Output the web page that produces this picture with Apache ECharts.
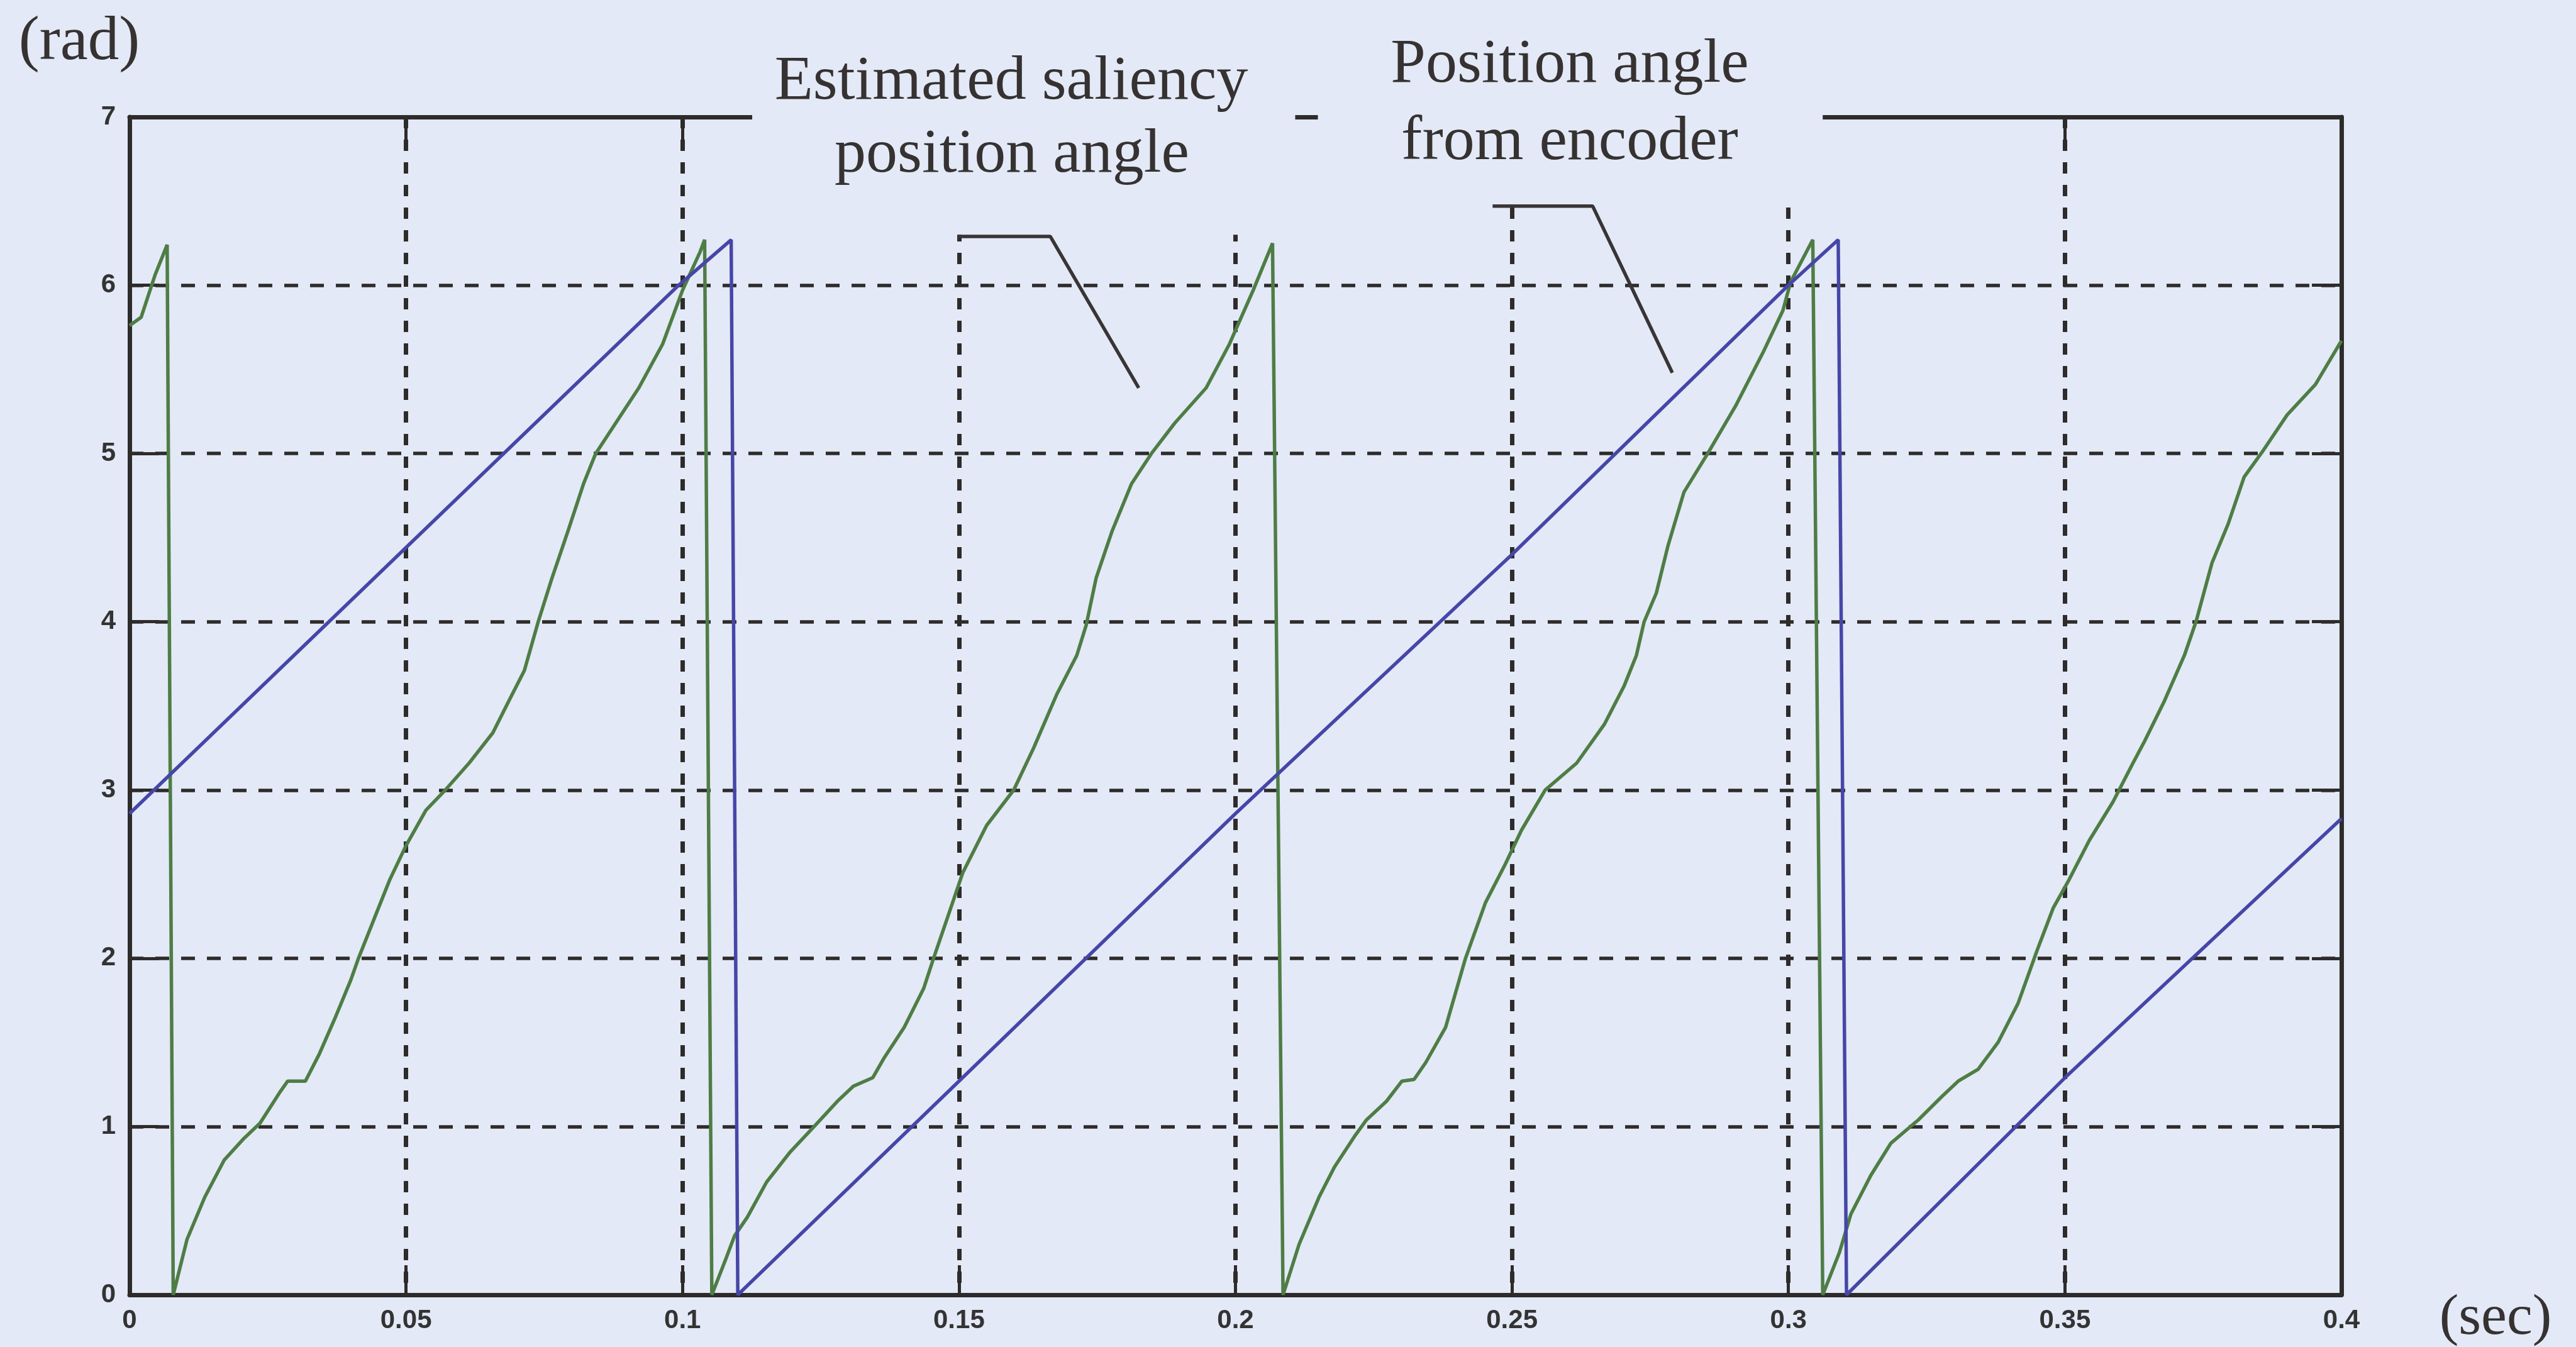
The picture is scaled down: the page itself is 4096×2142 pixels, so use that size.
<!DOCTYPE html>
<html>
<head>
<meta charset="utf-8">
<title>Estimated saliency position angle</title>
<script src="https://cdn.jsdelivr.net/npm/echarts@6/dist/echarts.min.js"></script>
<style>
  html, body { margin: 0; padding: 0; background: #e3e9f6; }
  #chart { width: 4096px; height: 2142px; }
</style>
</head>
<body>
<div id="chart"></div>
<script>
var xTickLabels = ["0", "0.05", "0.1", "0.15", "0.2", "0.25", "0.3", "0.35", "0.4"];
var yTickLabels = ["0", "1", "2", "3", "4", "5", "6", "7"];

// estimated saliency position angle, [sec, rad]
var estimatedAngle = [
  [0, 5.76], [0.0021, 5.81], [0.0046, 6.06], [0.0068, 6.24], [0.0079, 0],
  [0.0104, 0.33], [0.0136, 0.58], [0.0171, 0.8], [0.0207, 0.93], [0.0236, 1.02], [0.0271, 1.2],
  [0.0286, 1.27], [0.0318, 1.27], [0.0343, 1.43], [0.0371, 1.64], [0.04, 1.87], [0.0414, 2.0],
  [0.0443, 2.24], [0.0471, 2.47], [0.05, 2.67], [0.0536, 2.88], [0.0571, 3.0], [0.0614, 3.16],
  [0.0657, 3.34], [0.0686, 3.53], [0.0714, 3.71], [0.0739, 4.0], [0.0764, 4.26], [0.0793, 4.54],
  [0.0821, 4.82], [0.0843, 5.0], [0.0879, 5.18], [0.0921, 5.39], [0.0964, 5.65], [0.1, 5.97],
  [0.1032, 6.2], [0.1040, 6.27], [0.1053, 0],
  [0.1078, 0.21], [0.1094, 0.35], [0.1117, 0.46], [0.1152, 0.67], [0.1195, 0.85], [0.1238, 1.0],
  [0.128, 1.15], [0.1309, 1.24], [0.1344, 1.29], [0.1365, 1.41], [0.1401, 1.59], [0.1436, 1.82],
  [0.1454, 2.0], [0.1479, 2.24], [0.1507, 2.51], [0.155, 2.79], [0.1599, 3.0], [0.1635, 3.25],
  [0.1677, 3.57], [0.1713, 3.8], [0.173, 3.98], [0.1748, 4.26], [0.1777, 4.54], [0.1812, 4.82],
  [0.1848, 5.0], [0.189, 5.18], [0.1947, 5.39], [0.1989, 5.65], [0.2032, 5.97], [0.2067, 6.25],
  [0.2086, 0],
  [0.2115, 0.3], [0.2151, 0.58], [0.2179, 0.76], [0.2215, 0.94], [0.2237, 1.04], [0.2273, 1.15],
  [0.2301, 1.27], [0.2323, 1.28], [0.2344, 1.38], [0.238, 1.59], [0.2416, 2.0], [0.2452, 2.33],
  [0.2488, 2.56], [0.2517, 2.76], [0.256, 3.0], [0.2617, 3.16], [0.2667, 3.39], [0.2703, 3.62],
  [0.2725, 3.8], [0.2739, 4.0], [0.2761, 4.17], [0.2782, 4.45], [0.2811, 4.77], [0.2854, 5.0],
  [0.2904, 5.28], [0.2954, 5.6], [0.299, 5.85], [0.3004, 6.02], [0.3044, 6.27], [0.3062, 0],
  [0.3092, 0.25], [0.3113, 0.48], [0.3149, 0.71], [0.3185, 0.9], [0.3235, 1.04], [0.3278, 1.18],
  [0.3307, 1.27], [0.3343, 1.34], [0.3379, 1.5], [0.3415, 1.73], [0.345, 2.05], [0.3479, 2.3],
  [0.3508, 2.47], [0.3544, 2.7], [0.3587, 2.93], [0.3623, 3.16], [0.3644, 3.29], [0.368, 3.53],
  [0.3716, 3.8], [0.3737, 4.0], [0.3766, 4.35], [0.3795, 4.58], [0.3824, 4.86], [0.3859, 5.02],
  [0.3902, 5.23], [0.3953, 5.41], [0.4, 5.67]
];

// position angle from encoder, [sec, rad]
var encoderAngle = [
  [0, 2.86], [0.0993, 6.0], [0.1088, 6.27], [0.1100, 0], [0.15, 1.27], [0.2, 2.86],
  [0.25, 4.4], [0.3, 6.0], [0.309, 6.27], [0.3105, 0], [0.35, 1.29], [0.4, 2.83]
];

// leader lines from the two labels, in data units
var estimatedLeader = [[0.1498, 6.29], [0.1665, 6.29], [0.1825, 5.39]];
var encoderLeader = [[0.2465, 6.47], [0.2646, 6.47], [0.279, 5.48]];

// blanked areas behind the labels: [sec from, sec to, rad bottom]
var labelBoxes = [[0.1126, 0.2108, 6.30], [0.2149, 0.3062, 6.50]];

var bg = "#e3e9f6";
var ink = "#2e2b2b";
var green = "#4e7d45";
var blue = "#4646a8";

var chart = echarts.init(document.getElementById("chart"));

var axisLine = { show: true, onZero: false, lineStyle: { color: ink, width: 7 } };
var tick = { show: true, inside: true, length: 47, lineStyle: { color: ink, width: 5 } };
var tickFont = { fontFamily: "Liberation Sans", fontWeight: "bold", fontSize: 42, color: "#333" };

var option = {
  animation: false,
  backgroundColor: bg,
  grid: { left: 206, top: 186, width: 3517, height: 1873 },
  xAxis: [
    {
      type: "value", min: 0, max: 0.4, interval: 0.05, position: "bottom",
      axisLine: axisLine, axisTick: tick,
      axisLabel: Object.assign({
        margin: 20,
        formatter: function (v) { return xTickLabels[Math.round(v / 0.05)]; }
      }, tickFont),
      splitLine: { show: true, lineStyle: { color: ink, width: 7, type: [18, 18] } }
    },
    {
      type: "value", min: 0, max: 0.4, interval: 0.05, position: "top",
      axisLine: axisLine, axisTick: tick, axisLabel: { show: false }, splitLine: { show: false }
    }
  ],
  yAxis: [
    {
      type: "value", min: 0, max: 7, interval: 1, position: "left",
      axisLine: axisLine, axisTick: tick,
      axisLabel: Object.assign({
        margin: 22,
        formatter: function (v) { return yTickLabels[Math.round(v)]; }
      }, tickFont),
      splitLine: { show: true, lineStyle: { color: ink, width: 5.5, type: [22, 19] } }
    },
    {
      type: "value", min: 0, max: 7, interval: 1, position: "right",
      axisLine: axisLine, axisTick: tick, axisLabel: { show: false }, splitLine: { show: false }
    }
  ],
  series: [
    {
      name: "Estimated saliency position angle", type: "line", data: estimatedAngle,
      symbol: "none", lineStyle: { color: green, width: 5.5 }, z: 3
    },
    {
      name: "Position angle from encoder", type: "line", data: encoderAngle,
      symbol: "none", lineStyle: { color: blue, width: 5.5 }, z: 3
    },
    {
      type: "line", data: estimatedLeader, symbol: "none", silent: true,
      lineStyle: { color: "#3a3535", width: 5.5 }, z: 4
    },
    {
      type: "line", data: encoderLeader, symbol: "none", silent: true,
      lineStyle: { color: "#3a3535", width: 5.5 }, z: 4
    }
  ]
};

chart.setOption(option);

// cover the frame and grid lines behind the two labels
function px(t, v) {
  return chart.convertToPixel({ xAxisIndex: 0, yAxisIndex: 0 }, [t, v]);
}
var elements = labelBoxes.map(function (b) {
  var a = px(b[0], 7);
  var c = px(b[1], b[2]);
  return {
    type: "rect", z: 1,
    shape: { x: a[0], y: 0, width: c[0] - a[0], height: c[1] },
    style: { fill: bg }
  };
});

var serif = "Liberation Serif";
function label(text, x, y, size) {
  return {
    type: "text", z: 5,
    style: {
      text: text, x: x, y: y, fill: "#363232",
      font: size + "px '" + serif + "'",
      textAlign: "center", textVerticalAlign: "middle"
    }
  };
}
elements.push(label("(rad)", 126, 68, 99));
elements.push(label("Estimated saliency", 1608, 131, 100));
elements.push(label("position angle", 1609, 247, 100));
elements.push(label("Position angle", 2496, 104, 100));
elements.push(label("from encoder", 2496, 227, 100));
elements.push(label("(sec)", 3968, 2097, 92));

chart.setOption({ graphic: { elements: elements } });
</script>
</body>
</html>
